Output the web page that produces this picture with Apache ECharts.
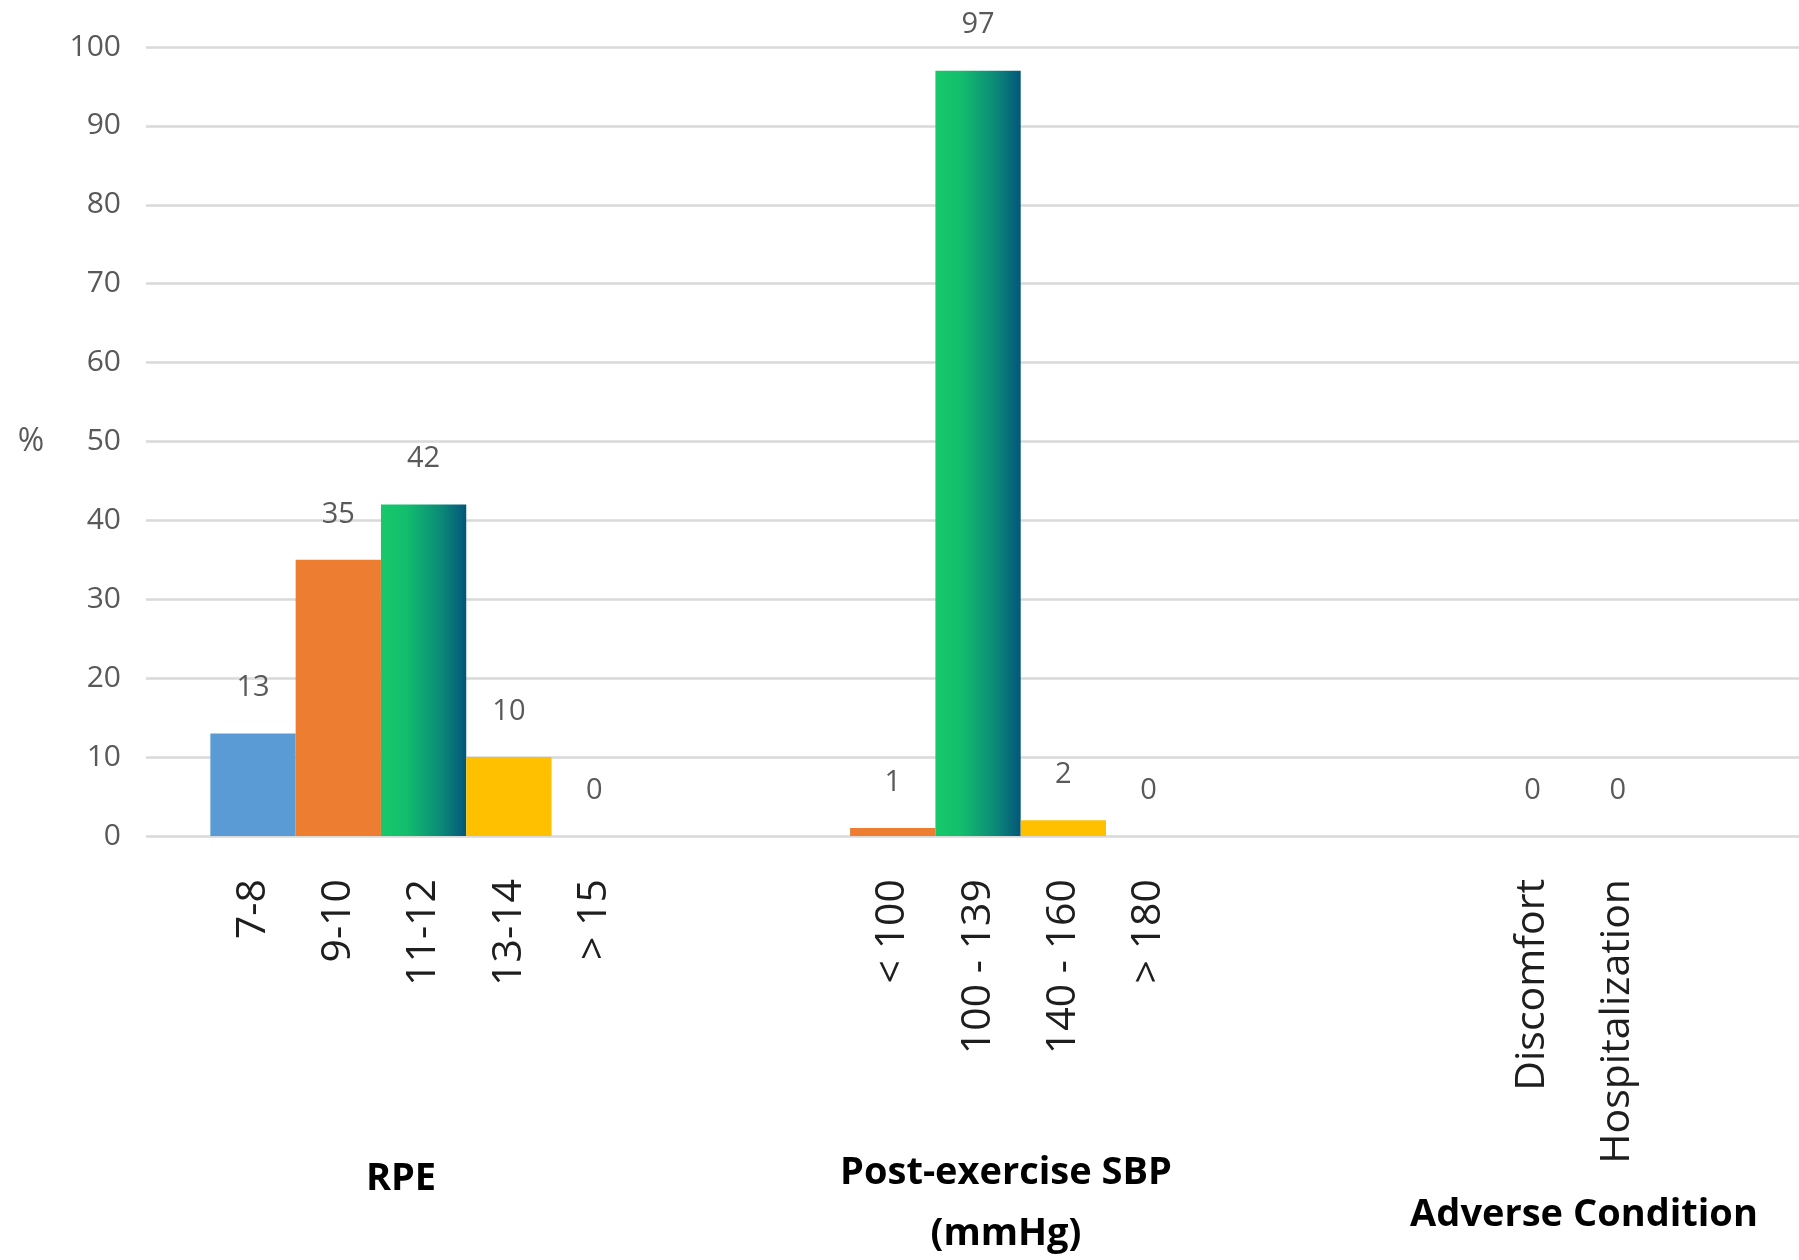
<!DOCTYPE html>
<html>
<head>
<meta charset="utf-8">
<title>RPE, post-exercise SBP and adverse conditions</title>
<script src="https://cdn.jsdelivr.net/npm/echarts@6/dist/echarts.min.js"></script>
<style>
  html, body { margin: 0; padding: 0; background: #ffffff; }
  #chart { width: 1799px; height: 1260px; }
</style>
</head>
<body>
<div id="chart"></div>
<script>
// ---- data -------------------------------------------------------------
const rpeCategories = ['7-8', '9-10', '11-12', '13-14', '> 15'];
const rpeValues = [13, 35, 42, 10, 0];

const sbpCategories = ['< 100', '100 - 139', '140 - 160', '> 180'];
const sbpValues = [1, 97, 2, 0];

const adverseCategories = ['Discomfort', 'Hospitalization'];
const adverseValues = [0, 0];

const groupTitles = ['RPE', 'Post-exercise SBP\n(mmHg)', 'Adverse Condition'];

const yMin = 0, yMax = 100, yStep = 10;
const yAxisTitle = '%';

// ---- styling ----------------------------------------------------------
const FONT = 'Open Sans';
const BLUE = '#5B9BD5', ORANGE = '#ED7D31', YELLOW = '#FFC000';
const GREEN = {
  type: 'linear', x: 0, y: 0, x2: 1, y2: 0,
  colorStops: [
    { offset: 0, color: '#17c96a' },
    { offset: 0.3, color: '#13bd6d' },
    { offset: 0.7, color: '#0b8a77' },
    { offset: 1, color: '#04567a' }
  ]
};
const rpeColors = [BLUE, ORANGE, GREEN, YELLOW, YELLOW];
const sbpColors = [ORANGE, GREEN, YELLOW, YELLOW];
const adverseColors = [BLUE, ORANGE];

// category slots on the bar grid (one bar per slot, bars touching)
const SLOT = 85.3;
const SLOT_COUNT = 17;
const FIRST_CENTER = 253;
const RPE_START = 0;        // slots on the centred axis
const ADVERSE_START = 15;   // slots on the centred axis
const SBP_START = 8;        // ticks on the half-shifted axis

const PLOT_TOP = 47;
const PLOT_BOTTOM = 424;

// label lists for the two category axes
const centredAxisLabels = new Array(SLOT_COUNT).fill('');
rpeCategories.forEach((c, i) => { centredAxisLabels[RPE_START + i] = c; });
adverseCategories.forEach((c, i) => { centredAxisLabels[ADVERSE_START + i] = c; });
const shiftedAxisLabels = new Array(SLOT_COUNT + 1).fill('');
sbpCategories.forEach((c, i) => { shiftedAxisLabels[SBP_START + i] = c; });

function toItems(values, colors, start) {
  return values.map((v, i) => ({ value: [start + i, v], itemStyle: { color: colors[i] } }));
}

const valueLabel = {
  show: true,
  position: 'top',
  distance: 31,
  fontFamily: FONT,
  fontSize: 29,
  color: '#595959',
  formatter: p => String(p.value[1])
};

const categoryLabel = {
  rotate: 90,
  margin: 43,
  fontFamily: FONT,
  fontSize: 41,
  color: '#1e1e1e',
  interval: 0
};

const barBase = {
  type: 'bar',
  barWidth: '100%',
  barGap: '-100%',
  yAxisIndex: 1,
  label: valueLabel,
  emphasis: { disabled: true },
  animation: false
};

const chart = echarts.init(document.getElementById('chart'), null, { renderer: 'canvas' });

chart.setOption({
  backgroundColor: '#ffffff',
  animation: false,
  grid: [
    // value grid: y labels and gridlines
    { left: 146, right: 0, top: PLOT_TOP, bottom: PLOT_BOTTOM },
    // bar grid
    { left: FIRST_CENTER - SLOT / 2, width: SLOT * SLOT_COUNT, top: PLOT_TOP, bottom: PLOT_BOTTOM }
  ],
  xAxis: [
    { gridIndex: 0, type: 'category', data: [''], show: false },
    {
      gridIndex: 1, type: 'category', boundaryGap: true, data: centredAxisLabels,
      axisLine: { show: false }, axisTick: { show: false }, axisLabel: categoryLabel
    },
    {
      gridIndex: 1, type: 'category', boundaryGap: false, data: shiftedAxisLabels,
      position: 'bottom',
      axisLine: { show: false }, axisTick: { show: false }, axisLabel: categoryLabel
    }
  ],
  yAxis: [
    {
      gridIndex: 0, type: 'value', min: yMin, max: yMax, interval: yStep,
      axisLine: { show: false }, axisTick: { show: false },
      axisLabel: { margin: 25, fontFamily: FONT, fontSize: 30, color: '#595959' },
      splitLine: { show: true, lineStyle: { color: '#d9d9d9', width: 2.5 } }
    },
    {
      gridIndex: 1, type: 'value', min: yMin, max: yMax, interval: yStep,
      show: false, splitLine: { show: false }
    }
  ],
  series: [
    Object.assign({}, barBase, { name: 'RPE', xAxisIndex: 1, data: toItems(rpeValues, rpeColors, RPE_START) }),
    Object.assign({}, barBase, { name: 'Post-exercise SBP', xAxisIndex: 2, data: toItems(sbpValues, sbpColors, SBP_START) }),
    Object.assign({}, barBase, { name: 'Adverse Condition', xAxisIndex: 1, data: toItems(adverseValues, adverseColors, ADVERSE_START) })
  ],
  graphic: [
    {
      type: 'text', x: 31, y: 442,
      style: { text: yAxisTitle, fontFamily: FONT, fontSize: 32, fill: '#595959',
               align: 'center', verticalAlign: 'middle' }
    },
    {
      type: 'text', x: 401, y: 1179,
      style: { text: groupTitles[0], fontFamily: FONT, fontWeight: 'bold', fontSize: 38, fill: '#000000',
               align: 'center', verticalAlign: 'middle' }
    },
    {
      type: 'text', x: 1006, y: 1204,
      style: { text: groupTitles[1], fontFamily: FONT, fontWeight: 'bold', fontSize: 38, lineHeight: 61,
               fill: '#000000', align: 'center', verticalAlign: 'middle' }
    },
    {
      type: 'text', x: 1584, y: 1215,
      style: { text: groupTitles[2], fontFamily: FONT, fontWeight: 'bold', fontSize: 38, fill: '#000000',
               align: 'center', verticalAlign: 'middle' }
    }
  ]
});
</script>
</body>
</html>
